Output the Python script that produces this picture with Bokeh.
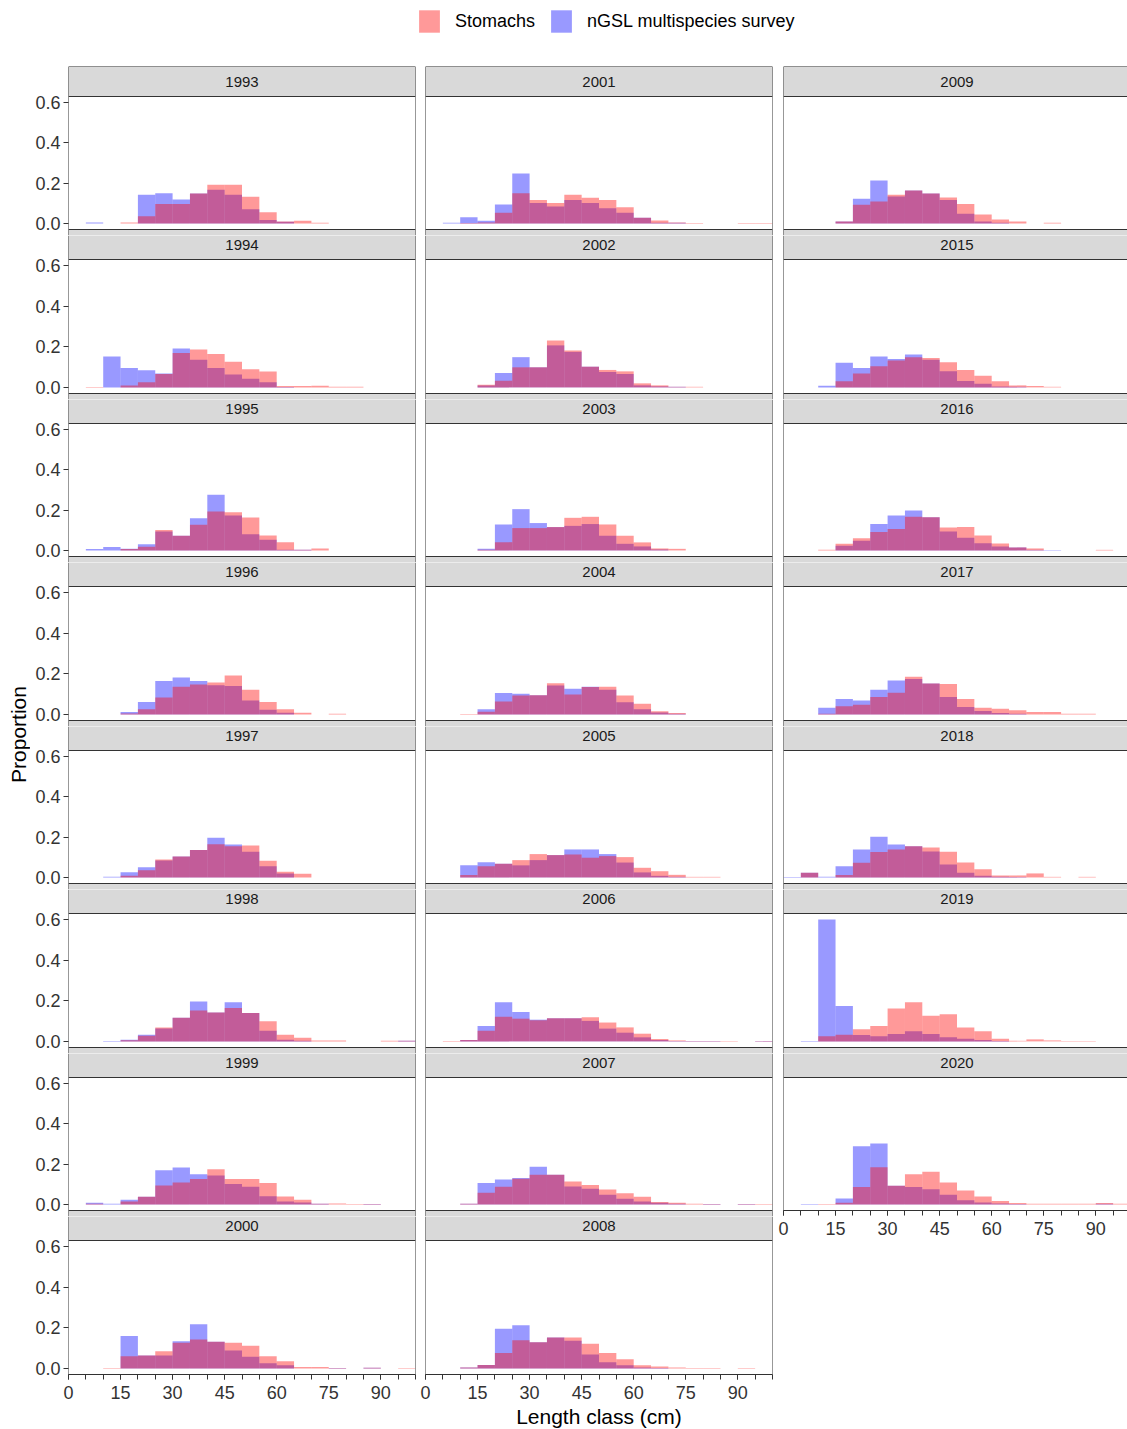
import math
from bokeh.plotting import figure
from bokeh.layouts import row, column
from bokeh.models import Range1d, FixedTicker, Legend, LegendItem, NumeralTickFormatter, Span
from bokeh.core.properties import value
from bokeh.embed import file_html
from bokeh.resources import INLINE

# ---------------- data ----------------
# length classes: 5 cm bins, edges 0..100
bin_edges = list(range(0, 105, 5))

stomachs_1993 = [0,0,0,0.005,0.036,0.096,0.096,0.149,0.192,0.192,0.132,0.055,0.010,0.013,0.004,0,0,0,0,0]
survey_1993   = [0,0.005,0,0,0.142,0.150,0.119,0.149,0.167,0.142,0.071,0.017,0.008,0,0,0,0,0,0,0]
stomachs_1994 = [0,0.002,0,0.010,0.025,0.066,0.169,0.187,0.165,0.126,0.089,0.078,0.007,0.007,0.008,0.003,0.003,0,0,0]
survey_1994   = [0,0,0.152,0.096,0.084,0.069,0.192,0.136,0.096,0.063,0.043,0.025,0.002,0,0,0,0,0,0,0]
stomachs_1995 = [0,0,0,0.007,0.018,0.102,0.073,0.127,0.193,0.190,0.164,0.074,0.041,0.003,0.010,0,0,0,0,0]
survey_1995   = [0,0.007,0.017,0.008,0.031,0.094,0.073,0.160,0.276,0.174,0.081,0.053,0.003,0.003,0,0,0,0,0,0]
stomachs_1996 = [0,0,0,0.005,0.026,0.083,0.136,0.147,0.157,0.192,0.121,0.061,0.026,0.008,0,0.003,0,0,0,0]
survey_1996   = [0,0,0,0.012,0.061,0.164,0.182,0.165,0.144,0.140,0.068,0.023,0.008,0,0,0,0,0,0,0]
stomachs_1997 = [0,0,0,0.008,0.036,0.089,0.104,0.136,0.165,0.155,0.159,0.083,0.028,0.018,0,0,0,0,0,0]
survey_1997   = [0,0,0.003,0.026,0.051,0.084,0.104,0.136,0.197,0.164,0.127,0.056,0.020,0,0,0,0,0,0,0]
stomachs_1998 = [0,0,0,0.006,0.028,0.069,0.116,0.152,0.142,0.164,0.140,0.099,0.033,0.018,0.005,0.005,0,0,0.003,0.003]
survey_1998   = [0,0,0.002,0.008,0.033,0.063,0.116,0.197,0.142,0.193,0.140,0.053,0.008,0.003,0,0,0,0,0,0.003]
stomachs_1999 = [0,0.003,0,0.015,0.038,0.094,0.109,0.126,0.175,0.126,0.126,0.106,0.040,0.023,0.003,0.005,0.002,0.002,0,0]
survey_1999   = [0,0.008,0.003,0.023,0.038,0.170,0.183,0.150,0.144,0.102,0.088,0.041,0.015,0.010,0.003,0,0,0.002,0,0]
stomachs_2000 = [0,0,0.002,0.060,0.063,0.084,0.126,0.142,0.131,0.126,0.111,0.060,0.035,0.007,0.007,0.002,0,0.003,0,0.002]
survey_2000   = [0,0,0,0.160,0.063,0.063,0.134,0.217,0.131,0.088,0.058,0.026,0.015,0,0,0.002,0,0.003,0,0]
stomachs_2001 = [0,0,0.002,0.005,0.053,0.150,0.117,0.101,0.142,0.127,0.117,0.081,0.028,0.015,0.005,0.002,0,0,0.002,0.002]
survey_2001   = [0,0.003,0.031,0.013,0.094,0.248,0.101,0.084,0.117,0.102,0.076,0.053,0.028,0.003,0.003,0,0,0,0,0]
stomachs_2002 = [0,0,0,0.013,0.033,0.099,0.099,0.231,0.182,0.102,0.086,0.079,0.020,0.010,0.003,0.003,0,0,0,0]
survey_2002   = [0,0,0,0.010,0.071,0.149,0.099,0.207,0.175,0.102,0.076,0.066,0.010,0.005,0.003,0,0,0,0,0]
stomachs_2003 = [0,0,0,0.003,0.041,0.111,0.111,0.116,0.162,0.167,0.129,0.073,0.040,0.010,0.008,0,0,0,0,0]
survey_2003   = [0,0,0,0.008,0.129,0.205,0.136,0.116,0.122,0.131,0.073,0.033,0.020,0.005,0,0,0,0,0,0]
stomachs_2004 = [0,0,0.002,0.013,0.064,0.093,0.094,0.154,0.098,0.135,0.136,0.093,0.053,0.015,0.007,0,0,0,0,0]
survey_2004   = [0,0,0,0.025,0.106,0.102,0.094,0.142,0.126,0.136,0.122,0.060,0.026,0.010,0.003,0,0,0,0,0]
stomachs_2005 = [0,0,0.012,0.055,0.068,0.086,0.116,0.111,0.114,0.098,0.106,0.101,0.048,0.031,0.013,0.003,0.003,0,0,0]
survey_2005   = [0,0,0.060,0.076,0.068,0.060,0.086,0.111,0.139,0.139,0.116,0.074,0.025,0.008,0.003,0,0,0,0,0]
stomachs_2006 = [0,0.002,0.007,0.053,0.122,0.112,0.104,0.114,0.114,0.119,0.093,0.069,0.038,0.012,0.005,0.002,0.002,0.002,0,0.002]
survey_2006   = [0,0,0.007,0.076,0.193,0.145,0.107,0.114,0.114,0.101,0.063,0.043,0.020,0.007,0.002,0.002,0.002,0,0,0.002]
stomachs_2007 = [0,0,0.004,0.058,0.088,0.127,0.147,0.147,0.114,0.096,0.074,0.056,0.038,0.012,0.008,0.004,0.002,0,0.002,0.002]
survey_2007   = [0,0,0.004,0.106,0.124,0.131,0.187,0.147,0.089,0.078,0.048,0.028,0.015,0.008,0.003,0,0.002,0,0.002,0]
stomachs_2008 = [0,0,0.005,0.017,0.076,0.139,0.129,0.152,0.152,0.121,0.076,0.045,0.015,0.010,0.005,0.002,0.002,0,0.002,0]
survey_2008   = [0,0,0.005,0.017,0.195,0.212,0.129,0.152,0.136,0.068,0.030,0.015,0.004,0.002,0,0,0,0,0,0]
stomachs_2009 = [0,0,0,0.010,0.093,0.109,0.142,0.164,0.149,0.129,0.096,0.045,0.020,0.010,0,0.003,0,0,0,0]
survey_2009   = [0,0,0,0.010,0.122,0.213,0.134,0.164,0.149,0.117,0.048,0.010,0.003,0,0,0,0,0,0,0]
stomachs_2015 = [0,0,0,0.030,0.069,0.104,0.132,0.149,0.145,0.124,0.086,0.058,0.030,0.010,0.007,0.003,0,0,0,0]
survey_2015   = [0,0,0.008,0.121,0.096,0.152,0.140,0.162,0.136,0.079,0.031,0.018,0.005,0.003,0,0,0,0,0,0]
stomachs_2016 = [0,0,0.003,0.033,0.060,0.091,0.107,0.167,0.165,0.114,0.117,0.074,0.035,0.015,0.010,0,0,0,0.003,0]
survey_2016   = [0,0,0,0.023,0.048,0.131,0.174,0.198,0.165,0.094,0.063,0.036,0.020,0.015,0.003,0.002,0,0,0,0]
stomachs_2017 = [0,0,0.003,0.040,0.048,0.086,0.107,0.185,0.152,0.150,0.076,0.033,0.028,0.020,0.012,0.012,0.003,0.003,0,0]
survey_2017   = [0,0,0.033,0.076,0.069,0.121,0.167,0.174,0.152,0.086,0.036,0.017,0.007,0.003,0,0,0,0,0,0]
stomachs_2018 = [0,0.023,0,0.012,0.073,0.126,0.139,0.155,0.149,0.127,0.074,0.041,0.010,0.010,0.020,0.003,0,0.003,0,0]
survey_2018   = [0.002,0.023,0.003,0.056,0.139,0.202,0.164,0.155,0.129,0.064,0.023,0.008,0.003,0.002,0,0,0,0,0,0]
stomachs_2019 = [0,0,0.025,0.033,0.060,0.076,0.162,0.193,0.126,0.134,0.069,0.050,0.013,0.003,0.010,0.005,0.002,0.002,0,0]
survey_2019   = [0,0.002,0.600,0.175,0.031,0.026,0.036,0.050,0.036,0.021,0.013,0.007,0.002,0,0,0,0,0,0,0]
stomachs_2020 = [0,0,0.002,0.008,0.086,0.185,0.093,0.150,0.162,0.109,0.069,0.040,0.017,0.007,0.003,0.003,0.003,0.003,0.007,0.003]
survey_2020   = [0,0.002,0,0.030,0.289,0.302,0.093,0.086,0.076,0.048,0.021,0.010,0.005,0.002,0,0,0,0,0.003,0]

col1_years = [1993, 1994, 1995, 1996, 1997, 1998, 1999, 2000]
col2_years = [2001, 2002, 2003, 2004, 2005, 2006, 2007, 2008]
col3_years = [2009, 2015, 2016, 2017, 2018, 2019, 2020]

x_ticks = [0, 15, 30, 45, 60, 75, 90]
x_minor_ticks = list(range(0, 105, 5))
y_ticks = [0.0, 0.2, 0.4, 0.6]
y_limits = (-0.03, 0.63)

all_years = col1_years + col2_years + col3_years
stomachs = {y: globals()["stomachs_%d" % y] for y in all_years}
survey = {y: globals()["survey_%d" % y] for y in all_years}

# ---------------- styling ----------------
FONT = "Liberation Sans"
RED = "#FF0000"
BLUE = "#0000FF"
ALPHA = 0.4
BORDER = "#333333"
STRIP_FILL = "#D9D9D9"
STRIP_H = 30
STRIP_HEAD = 6      # part of the next strip drawn in the figure above it
PANEL_H = [133, 134, 133, 134, 133, 134, 133, 134]


def add_bars(p, vals, color):
    lefts, rights, tops = [], [], []
    for i, v in enumerate(vals):
        if v > 0:
            lefts.append(bin_edges[i])
            rights.append(bin_edges[i + 1])
            tops.append(v)
    p.quad(left=lefts, right=rights, bottom=0, top=tops, fill_color=color, fill_alpha=ALPHA,
           line_color=None)


def make_panel(year, r, n, mbl, mbr, fw, xend, left_axis, xlabel=None):
    ylo, yhi = y_limits
    ph = PANEL_H[r]
    u = ph / (yhi - ylo)                       # pixels per unit
    top_part = STRIP_H if r == 0 else STRIP_H - STRIP_HEAD
    bot_part = STRIP_HEAD if r < n - 1 else 0
    y_start = ylo - bot_part / u
    y_end = yhi + top_part / u
    last = (r == n - 1)
    p = figure(frame_width=fw, frame_height=ph + top_part + bot_part,
               x_range=Range1d(0, xend), y_range=Range1d(y_start, y_end),
               x_axis_location="below" if last else None,
               y_axis_location="left" if left_axis else None,
               toolbar_location=None, output_backend="svg", min_border=0,
               min_border_left=mbl, min_border_right=mbr, min_border_top=1 if r == 0 else 0)
    p.grid.visible = False
    p.outline_line_color = None
    p.background_fill_color = "white"
    p.border_fill_color = "white"

    # facet strip (this year's strip, and the top of the next one); drawn past the frame, clipped
    p.quad(left=[-5], right=[xend + 5], bottom=[yhi], top=[y_end + 1], fill_color=STRIP_FILL, line_color=None)
    if bot_part:
        p.quad(left=[-5], right=[xend + 5], bottom=[y_start - 1], top=[ylo], fill_color=STRIP_FILL, line_color=None)
    p.text(x=[50], y=[yhi + (STRIP_H / 2) / u], text=[str(year)], text_align="center",
           text_baseline="middle", text_font=value(FONT), text_font_size="15px", text_color="#1A1A1A")

    add_bars(p, survey[year], BLUE)
    add_bars(p, stomachs[year], RED)

    # borders
    for loc in (0, xend):
        p.add_layout(Span(location=loc, dimension="height", line_color=BORDER, line_width=1))
    for loc in (yhi, ylo):
        p.add_layout(Span(location=loc, dimension="width", line_color=BORDER, line_width=1))
    if r == 0:
        p.add_layout(Span(location=y_end, dimension="width", line_color=BORDER, line_width=1))

    if left_axis:
        ax = p.yaxis[0]
        ax.ticker = FixedTicker(ticks=y_ticks)
        ax.formatter = NumeralTickFormatter(format="0.0")
        ax.axis_line_color = None
        ax.major_tick_line_color = BORDER
        ax.major_tick_out = 5
        ax.major_tick_in = 0
        ax.minor_tick_line_color = None
        ax.major_label_standoff = 3
        ax.major_label_text_font = FONT
        ax.major_label_text_font_size = "18px"
        ax.major_label_text_color = "#333333"
    if last:
        ax = p.xaxis[0]
        ax.ticker = FixedTicker(ticks=x_ticks, minor_ticks=x_minor_ticks)
        ax.axis_line_color = BORDER
        ax.major_tick_line_color = BORDER
        ax.minor_tick_line_color = BORDER
        ax.major_tick_out = 5
        ax.major_tick_in = 0
        ax.minor_tick_out = 5
        ax.minor_tick_in = 0
        ax.major_label_standoff = 6
        ax.major_label_text_font = FONT
        ax.major_label_text_font_size = "18px"
        ax.major_label_text_color = "#333333"
        if xlabel:
            ax.axis_label = xlabel
            ax.axis_label_text_font = FONT
            ax.axis_label_text_font_size = "21px"
            ax.axis_label_text_font_style = "normal"
            ax.axis_label_text_color = "#000000"
            ax.axis_label_standoff = 3
    return p


def make_column(years, mbl, mbr, fw, xend, left_axis, xlabel=None):
    n = len(years)
    kids = [make_panel(yr, r, n, mbl, mbr, fw, xend, left_axis, xlabel if r == n - 1 else None)
            for r, yr in enumerate(years)]
    return column(*kids, spacing=0)


col1 = make_column(col1_years, 38, 1, 347, 100, True)
col2 = make_column(col2_years, 9, 1, 347, 100, False, "Length class (cm)")
col3 = make_column(col3_years, 10, 0, 344, 100 * 344 / 347, False)

# y axis title
ylab = figure(frame_width=30, frame_height=1309, x_range=Range1d(0, 1), y_range=Range1d(0, 1),
              x_axis_location=None, y_axis_location=None, toolbar_location=None,
              output_backend="svg", min_border=0)
ylab.grid.visible = False
ylab.outline_line_color = None
ylab.text(x=[18 / 30], y=[(1375 - 735) / 1309], text=["Proportion"], angle=math.pi / 2,
          text_align="center", text_baseline="middle", text_font=value(FONT),
          text_font_size="21px", text_color="#000000")

# legend header
hdr = figure(frame_width=1127, frame_height=65, x_range=Range1d(0, 1), y_range=Range1d(0, 1),
             x_axis_location=None, y_axis_location=None, toolbar_location=None,
             output_backend="svg", min_border=0)
hdr.grid.visible = False
hdr.outline_line_color = None
r_red = hdr.quad(left=[-3], right=[-2], top=[1], bottom=[0], fill_color=RED, fill_alpha=ALPHA, line_color=None)
r_blue = hdr.quad(left=[-3], right=[-2], top=[1], bottom=[0], fill_color=BLUE, fill_alpha=ALPHA, line_color=None)
legend = Legend(items=[LegendItem(label="Stomachs", renderers=[r_red]),
                       LegendItem(label="nGSL multispecies survey", renderers=[r_blue])],
                orientation="horizontal", location=(416, 30), glyph_width=26, glyph_height=28,
                label_standoff=13, spacing=13, padding=0, margin=0, border_line_color=None,
                background_fill_alpha=0, label_text_font=FONT, label_text_font_size="18px",
                label_text_color="#000000")
hdr.add_layout(legend)

layout = column(hdr, row(ylab, col1, col2, col3, spacing=0), spacing=0)

open("out.html", "w").write(file_html(layout, INLINE))
